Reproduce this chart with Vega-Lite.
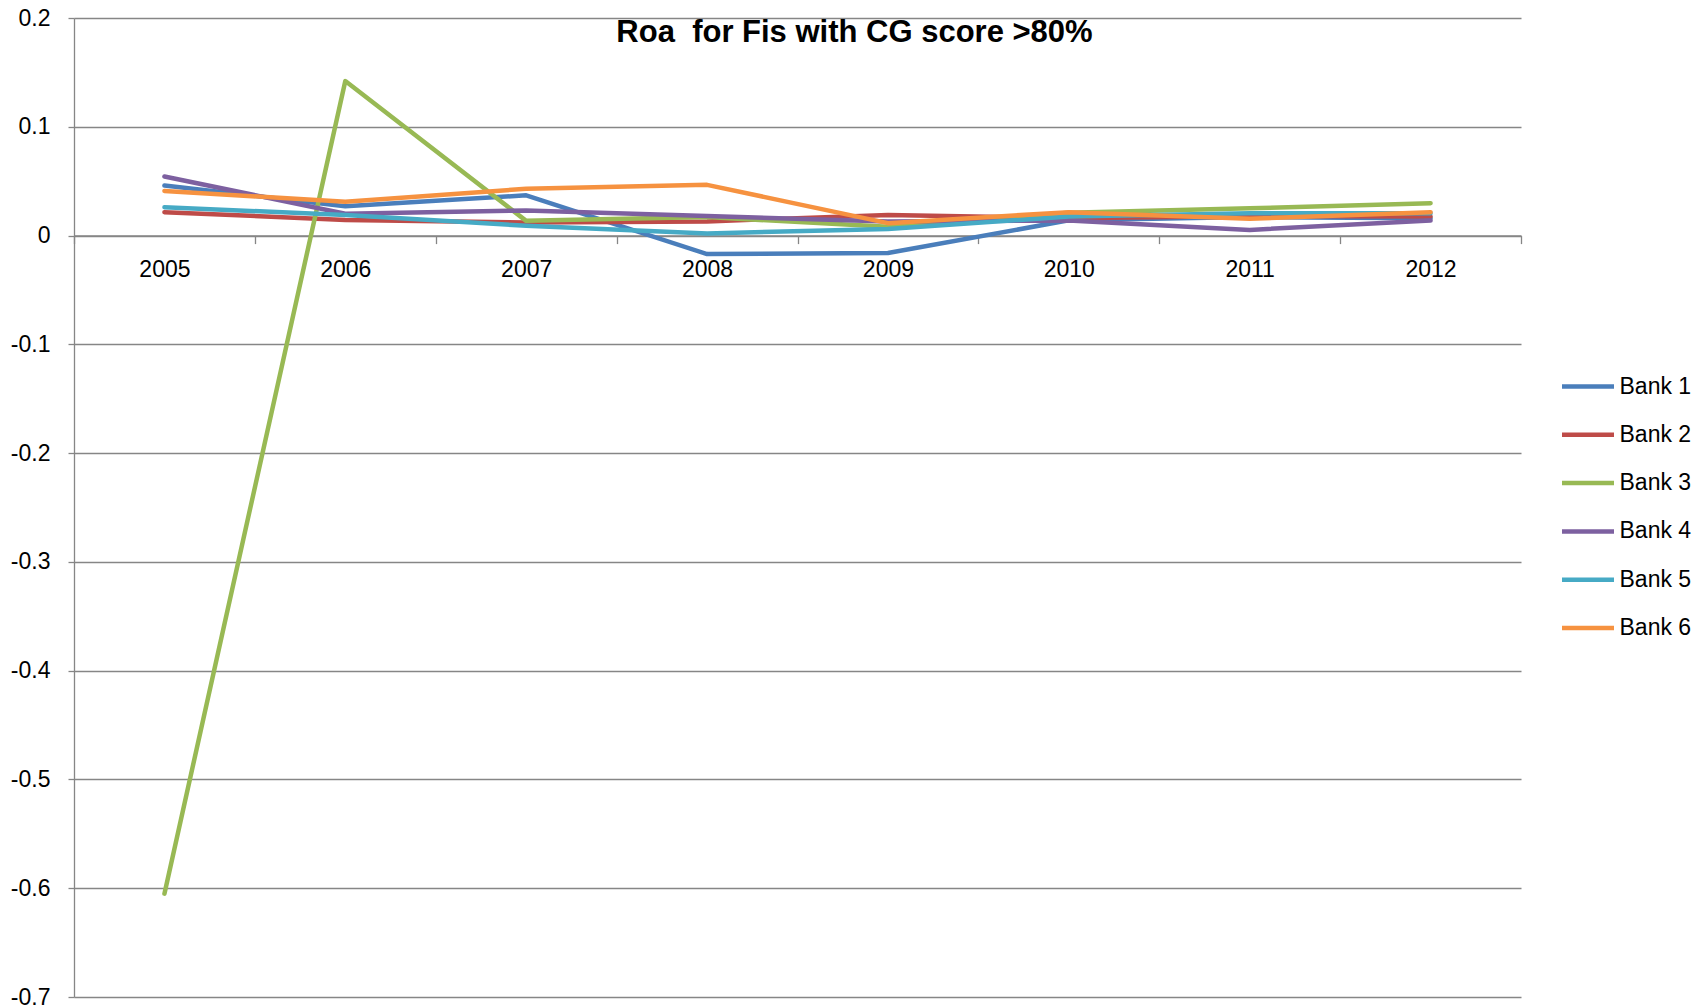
{
  "$schema": "https://vega.github.io/schema/vega-lite/v6.json",
  "autosize": {"type": "none"},
  "padding": {"left": 74, "top": 18, "right": 184, "bottom": 11},
  "width": 1447,
  "height": 979,
  "background": "white",
  "config": {"view": {"stroke": null}},
  "title": {
    "text": "Roa\u00a0 for Fis with CG score >80%",
    "anchor": "middle",
    "dx": 57,
    "offset": -66,
    "baseline": "alphabetic",
    "font": "Liberation Sans",
    "fontSize": 31,
    "fontWeight": "bold",
    "color": "#000000"
  },
  "data": {
    "values": [
      {"year": "2005", "bank": "Bank 1", "roa": 0.046},
      {"year": "2006", "bank": "Bank 1", "roa": 0.027},
      {"year": "2007", "bank": "Bank 1", "roa": 0.037},
      {"year": "2008", "bank": "Bank 1", "roa": -0.017},
      {"year": "2009", "bank": "Bank 1", "roa": -0.016},
      {"year": "2010", "bank": "Bank 1", "roa": 0.014},
      {"year": "2011", "bank": "Bank 1", "roa": 0.017},
      {"year": "2012", "bank": "Bank 1", "roa": 0.016},
      {"year": "2005", "bank": "Bank 2", "roa": 0.0215},
      {"year": "2006", "bank": "Bank 2", "roa": 0.0144},
      {"year": "2007", "bank": "Bank 2", "roa": 0.012},
      {"year": "2008", "bank": "Bank 2", "roa": 0.013},
      {"year": "2009", "bank": "Bank 2", "roa": 0.019},
      {"year": "2010", "bank": "Bank 2", "roa": 0.016},
      {"year": "2011", "bank": "Bank 2", "roa": 0.018},
      {"year": "2012", "bank": "Bank 2", "roa": 0.0175},
      {"year": "2005", "bank": "Bank 3", "roa": -0.605},
      {"year": "2006", "bank": "Bank 3", "roa": 0.142},
      {"year": "2007", "bank": "Bank 3", "roa": 0.0135},
      {"year": "2008", "bank": "Bank 3", "roa": 0.017},
      {"year": "2009", "bank": "Bank 3", "roa": 0.008},
      {"year": "2010", "bank": "Bank 3", "roa": 0.021},
      {"year": "2011", "bank": "Bank 3", "roa": 0.025},
      {"year": "2012", "bank": "Bank 3", "roa": 0.0298},
      {"year": "2005", "bank": "Bank 4", "roa": 0.0543},
      {"year": "2006", "bank": "Bank 4", "roa": 0.02},
      {"year": "2007", "bank": "Bank 4", "roa": 0.023},
      {"year": "2008", "bank": "Bank 4", "roa": 0.018},
      {"year": "2009", "bank": "Bank 4", "roa": 0.013},
      {"year": "2010", "bank": "Bank 4", "roa": 0.0138},
      {"year": "2011", "bank": "Bank 4", "roa": 0.0052},
      {"year": "2012", "bank": "Bank 4", "roa": 0.0138},
      {"year": "2005", "bank": "Bank 5", "roa": 0.026},
      {"year": "2006", "bank": "Bank 5", "roa": 0.019},
      {"year": "2007", "bank": "Bank 5", "roa": 0.009},
      {"year": "2008", "bank": "Bank 5", "roa": 0.002},
      {"year": "2009", "bank": "Bank 5", "roa": 0.006},
      {"year": "2010", "bank": "Bank 5", "roa": 0.0175},
      {"year": "2011", "bank": "Bank 5", "roa": 0.0206},
      {"year": "2012", "bank": "Bank 5", "roa": 0.0206},
      {"year": "2005", "bank": "Bank 6", "roa": 0.041},
      {"year": "2006", "bank": "Bank 6", "roa": 0.031},
      {"year": "2007", "bank": "Bank 6", "roa": 0.043},
      {"year": "2008", "bank": "Bank 6", "roa": 0.0466},
      {"year": "2009", "bank": "Bank 6", "roa": 0.0114},
      {"year": "2010", "bank": "Bank 6", "roa": 0.0215},
      {"year": "2011", "bank": "Bank 6", "roa": 0.0154},
      {"year": "2012", "bank": "Bank 6", "roa": 0.0215}
    ]
  },
  "mark": {"type": "line", "strokeWidth": 4.5, "strokeCap": "round", "strokeJoin": "round"},
  "encoding": {
    "x": {
      "field": "year",
      "type": "ordinal",
      "bandPosition": 0.5,
      "scale": {"type": "band", "paddingInner": 0, "paddingOuter": 0},
      "axis": {
        "title": null,
        "orient": "bottom",
        "offset": -761.4,
        "labelAngle": 0,
        "tickBand": "extent",
        "tickSize": 8,
        "tickColor": "#868686",
        "tickWidth": 1.3,
        "domainColor": "#868686",
        "domainWidth": 1.5,
        "grid": false,
        "labelFont": "Liberation Sans",
        "labelFontSize": 23,
        "labelColor": "#000000",
        "labelPadding": 15
      }
    },
    "y": {
      "field": "roa",
      "type": "quantitative",
      "scale": {"domain": [-0.7, 0.2], "nice": false, "zero": false},
      "axis": {
        "title": null,
        "values": [-0.7, -0.6, -0.5, -0.4, -0.3, -0.2, -0.1, 0, 0.1, 0.2],
        "labelExpr": "datum.value == 0 ? '0' : (datum.value < 0 ? '-' + format(-datum.value, '.1f') : format(datum.value, '.1f'))",
        "grid": true,
        "gridColor": "#868686",
        "gridWidth": 1.3,
        "domainColor": "#868686",
        "domainWidth": 1.3,
        "tickColor": "#868686",
        "tickWidth": 1.3,
        "tickSize": 6,
        "labelFont": "Liberation Sans",
        "labelFontSize": 23,
        "labelColor": "#000000",
        "labelPadding": 18
      }
    },
    "color": {
      "field": "bank",
      "type": "nominal",
      "scale": {
        "domain": ["Bank 1", "Bank 2", "Bank 3", "Bank 4", "Bank 5", "Bank 6"],
        "range": ["#4A7EBB", "#BE4B48", "#98B954", "#7D60A0", "#46AAC5", "#F69240"]
      },
      "legend": {
        "title": null,
        "orient": "none",
        "legendX": 1485.5,
        "legendY": 345.5,
        "padding": 0,
        "symbolType": "stroke",
        "symbolSize": 2704,
        "symbolStrokeWidth": 4.5,
        "clipHeight": 46,
        "rowPadding": 2.3,
        "labelOffset": 3,
        "labelFont": "Liberation Sans",
        "labelFontSize": 23,
        "labelColor": "#000000"
      }
    }
  }
}
